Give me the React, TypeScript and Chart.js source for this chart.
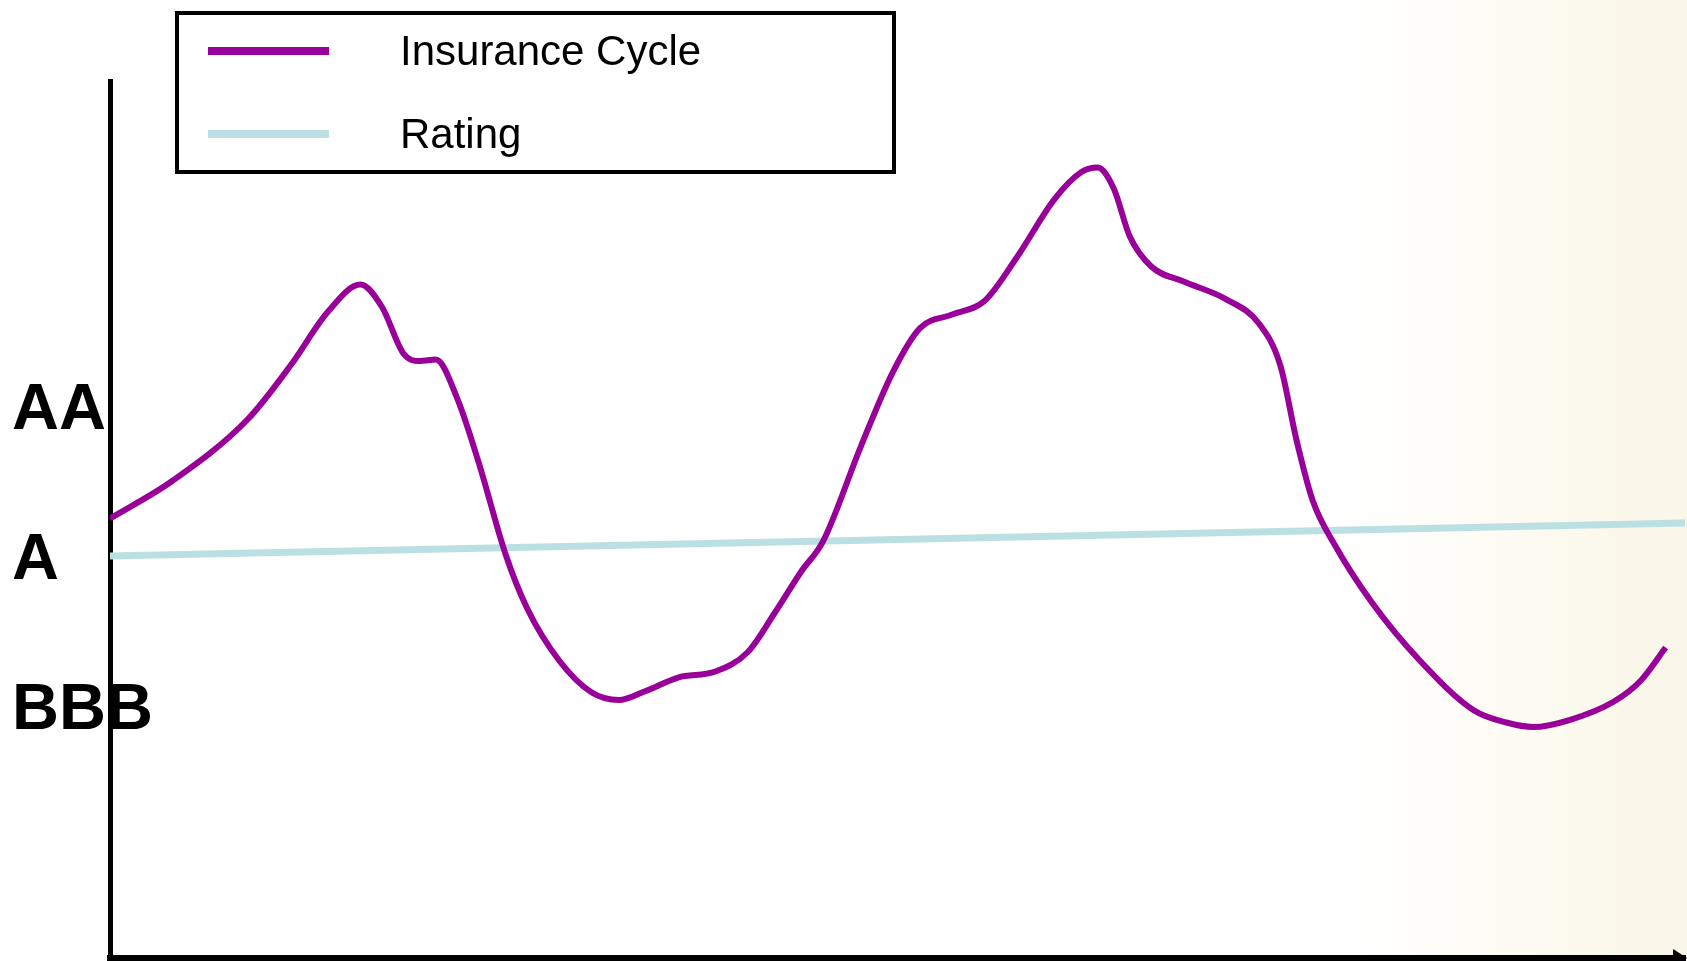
import React, { useEffect, useRef } from "react";
import { Chart, registerables } from "chart.js";

Chart.register(...registerables);

// Insurance cycle (x: time 0..100, y: rating level where BBB=1, A=2, AA=3)
const cycleX = [0, 3.95, 8.73, 11.46, 13.85, 15.9, 17.27, 18.63, 19.66, 20.69, 22.05, 23.42, 25.12, 26.49, 28.54, 30.59, 32.3, 34.01, 36.06, 38.44, 40.5, 42.2, 43.91, 45.28, 47.67, 49.72, 51.43, 53.48, 55.52, 57.57, 59.97, 61.68, 62.7, 63.73, 64.75, 66.11, 68.17, 70.9, 72.95, 74.31, 75.34, 76.36, 77.73, 80.12, 83.19, 86.61, 88.66, 90.37, 92.76, 95.49, 97.2, 98.77];
const cycleY = [2.25, 2.5, 2.91, 3.27, 3.63, 3.81, 3.66, 3.35, 3.3, 3.31, 3.05, 2.62, 2.01, 1.65, 1.3, 1.09, 1.04, 1.1, 1.19, 1.23, 1.36, 1.62, 1.9, 2.1, 2.73, 3.23, 3.52, 3.61, 3.7, 3.99, 4.38, 4.56, 4.59, 4.45, 4.13, 3.93, 3.83, 3.71, 3.55, 3.27, 2.77, 2.37, 2.08, 1.69, 1.3, 0.97, 0.89, 0.86, 0.91, 1.03, 1.17, 1.39];

const ratingX = [0, 100];
const ratingY = [2.0, 2.22];

const tickValues = [1, 2, 3];
const tickLabels = ["BBB", "A", "AA"];

const seriesLabels = ["Insurance Cycle", "Rating"];
const seriesColors = ["#990099", "#BBE0E3"];

const legendPlugin = {
  id: "boxLegend",
  afterDraw(chart: any) {
    const ctx = chart.ctx;
    ctx.save();
    ctx.strokeStyle = "#000";
    ctx.lineWidth = 4;
    ctx.strokeRect(177, 13, 717, 159);
    const rows = [51, 134];
    const baselines = [65, 148];
    chart.data.datasets.forEach((ds: any, i: number) => {
      ctx.strokeStyle = ds.borderColor;
      ctx.lineWidth = 8;
      ctx.beginPath();
      ctx.moveTo(208, rows[i]);
      ctx.lineTo(329, rows[i]);
      ctx.stroke();
      ctx.fillStyle = "#000";
      ctx.font = '42px "Liberation Sans", Arial, sans-serif';
      ctx.textAlign = "left";
      ctx.textBaseline = "alphabetic";
      ctx.fillText(ds.label, 400, baselines[i]);
    });
    ctx.restore();
  },
};

const arrowPlugin = {
  id: "axisArrow",
  afterDraw(chart: any) {
    const { ctx, chartArea } = chart;
    const r = chartArea.right;
    const b = chartArea.bottom;
    ctx.save();
    ctx.fillStyle = "#000";
    ctx.beginPath();
    ctx.moveTo(r - 12, b - 9);
    ctx.lineTo(r + 2, b);
    ctx.lineTo(r - 12, b + 9);
    ctx.closePath();
    ctx.fill();
    ctx.restore();
  },
};

export default function App() {
  const canvasRef = useRef<HTMLCanvasElement | null>(null);

  useEffect(() => {
    if (!canvasRef.current) return;
    const chart = new Chart(canvasRef.current, {
      type: "line",
      data: {
        datasets: [
          {
            label: seriesLabels[0],
            data: cycleX.map((x, i) => ({ x, y: cycleY[i] })),
            borderColor: seriesColors[0],
            borderWidth: 6,
            pointRadius: 0,
            cubicInterpolationMode: "monotone",
            fill: false,
          },
          {
            label: seriesLabels[1],
            data: ratingX.map((x, i) => ({ x, y: ratingY[i] })),
            borderColor: seriesColors[1],
            borderWidth: 7,
            pointRadius: 0,
            fill: false,
          },
        ],
      },
      options: {
        animation: false,
        responsive: false,
        devicePixelRatio: 1,
        events: [],
        layout: { padding: { left: 12, top: 81, right: 2, bottom: 3 } },
        plugins: { legend: { display: false }, tooltip: { enabled: false } },
        scales: {
          x: {
            type: "linear",
            min: 0,
            max: 100,
            position: "bottom",
            grid: { display: false, drawTicks: false },
            ticks: { display: false },
            border: { display: true, color: "#000", width: 6 },
            afterFit: (scale: any) => {
              scale.height = 0;
              scale.paddingLeft = 0;
              scale.paddingRight = 0;
            },
          },
          y: {
            type: "linear",
            min: -0.68,
            max: 5.167,
            position: "left",
            grid: { display: false, drawTicks: false },
            border: { display: true, color: "#000", width: 5 },
            afterBuildTicks: (scale: any) => {
              scale.ticks = tickValues.map((v) => ({ value: v }));
            },
            afterFit: (scale: any) => {
              scale.width = 98;
              scale.paddingTop = 0;
              scale.paddingBottom = 0;
            },
            ticks: {
              autoSkip: false,
              mirror: true,
              crossAlign: "near",
              padding: -98,
              color: "#000",
              font: { family: '"Liberation Sans", Arial, sans-serif', size: 65, weight: "bold", lineHeight: 0.16 },
              callback: (value: any) => ["", tickLabels[tickValues.indexOf(Number(value))] ?? ""],
            },
          },
        },
      },
      plugins: [legendPlugin, arrowPlugin],
    } as any);
    return () => chart.destroy();
  }, []);

  return (
    <div
      style={{
        position: "absolute",
        left: 0,
        top: 0,
        width: 1687,
        height: 961,
        overflow: "hidden",
        background:
          "linear-gradient(90deg, #ffffff 0%, #ffffff 80%, #fefcf6 87%, #fcf9ef 93%, #faf6e8 100%)",
      }}
    >
      <canvas ref={canvasRef} width={1687} height={961} style={{ display: "block" }} />
    </div>
  );
}
